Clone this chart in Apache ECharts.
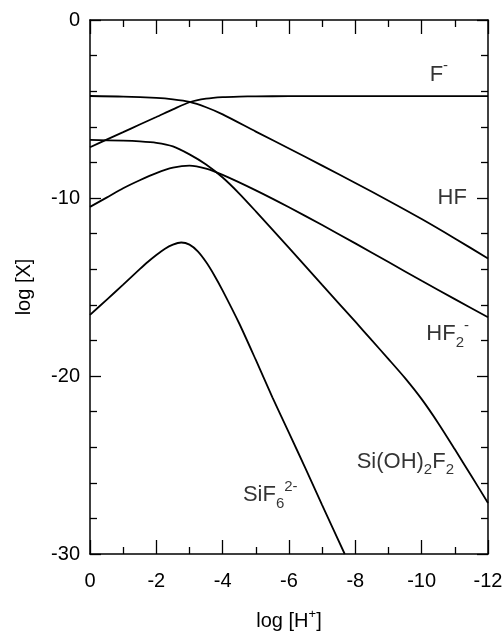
<!DOCTYPE html>
<html>
<head>
<meta charset="utf-8">
<script src="https://cdn.jsdelivr.net/npm/echarts@6/dist/echarts.min.js"></script>
<style>
  html, body { margin: 0; padding: 0; background: #fff; }
  #chart { width: 504px; height: 635px; }
</style>
</head>
<body>
<div id="chart"></div>
<script>
// log [H+] positions and log [X] values
var fX = [0, -0.5, -1, -1.5, -2, -2.5, -3, -3.5, -4, -4.5, -5, -6, -8, -10, -12];
var fY = [-7.15, -6.72, -6.3, -5.87, -5.45, -5.02, -4.62, -4.42, -4.33, -4.3, -4.29, -4.28, -4.28, -4.28, -4.28];

var hfX = [0, -1, -2, -2.5, -3, -3.5, -4, -5, -6, -7, -8, -9, -10, -11, -12];
var hfY = [-4.27, -4.3, -4.38, -4.46, -4.6, -4.9, -5.3, -6.27, -7.22, -8.18, -9.16, -10.15, -11.18, -12.27, -13.4];

var hf2X = [0, -0.5, -1, -1.5, -2, -2.5, -3, -3.5, -4, -5, -6, -7, -8, -9, -10, -11, -12];
var hf2Y = [-10.5, -9.98, -9.45, -9.0, -8.6, -8.3, -8.18, -8.35, -8.7, -9.57, -10.52, -11.52, -12.55, -13.6, -14.65, -15.68, -16.7];

var sioX = [0, -1, -1.5, -2, -2.5, -3, -3.5, -4, -4.5, -5, -6, -7, -8, -8.5, -9, -9.5, -10, -10.5, -11, -11.5, -12];
var sioY = [-6.74, -6.78, -6.82, -6.9, -7.1, -7.55, -8.12, -8.85, -9.75, -10.75, -12.8, -14.88, -16.95, -18.0, -19.05, -20.12, -21.3, -22.65, -24.12, -25.62, -27.13];

var sif6X = [0, -0.5, -1, -1.5, -1.75, -2, -2.25, -2.5, -2.75, -3, -3.25, -3.5, -3.75, -4, -4.5, -5, -5.5, -6, -6.5, -7, -7.68];
var sif6Y = [-16.57, -15.72, -14.87, -14.0, -13.58, -13.2, -12.86, -12.62, -12.5, -12.62, -13.0, -13.6, -14.35, -15.2, -17.05, -19.1, -21.2, -23.2, -25.2, -27.25, -30];

// species labels: text and where they sit (data units)
var labelText = ['F{sup|-}', 'HF', 'HF{sub|2}{sup|-}', 'Si(OH){sub|2}F{sub|2}', 'SiF{sub|6}{sup|2-}'];
var labelPos = [[-10.24, -3.06], [-10.48, -10.0], [-10.14, -17.64], [-8.04, -24.8], [-4.61, -26.7]];

function pairs(xs, ys) {
  return xs.map(function (x, i) { return [x, ys[i]]; });
}

var font = 'Liberation Sans, Arial, Helvetica, sans-serif';

function curve(name, xs, ys) {
  return {
    name: name,
    type: 'line',
    data: pairs(xs, ys),
    smooth: 0.25,
    showSymbol: false,
    clip: true,
    lineStyle: { color: '#000', width: 1.8 },
    z: 3
  };
}

var chart = echarts.init(document.getElementById('chart'));
var tickStyle = { color: '#000', width: 1.3 };
var lineStyle = { color: '#000', width: 1.5 };
var option = {
  animation: false,
  backgroundColor: '#fff',
  textStyle: { fontFamily: font },
  grid: { left: 90, right: 16, top: 20, bottom: 81, outerBoundsMode: 'none' },
  xAxis: [
    {
      type: 'value',
      position: 'bottom',
      min: -12,
      max: 0,
      interval: 2,
      inverse: true,
      name: '{b|log [H}{sup|+}{b|]}',
      nameLocation: 'middle',
      nameGap: 54,
      nameTextStyle: {
        fontFamily: font,
        fontSize: 20,
        color: '#000',
        rich: {
          b: { fontFamily: font, fontSize: 20, color: '#000', lineHeight: 26 },
          sup: { fontFamily: font, fontSize: 13, color: '#000', verticalAlign: 'top' }
        }
      },
      axisLine: { onZero: false, lineStyle: lineStyle },
      axisTick: { inside: true, length: 14, lineStyle: tickStyle },
      minorTick: { show: true, splitNumber: 2, length: 7, lineStyle: tickStyle },
      splitLine: { show: false },
      axisLabel: { color: '#000', fontSize: 20, fontFamily: font, margin: 17 }
    },
    {
      type: 'value',
      position: 'top',
      min: -12,
      max: 0,
      interval: 2,
      inverse: true,
      axisLine: { show: true, onZero: false, lineStyle: lineStyle },
      axisTick: { inside: true, length: 14, lineStyle: tickStyle },
      minorTick: { show: true, splitNumber: 2, length: 7, lineStyle: tickStyle },
      splitLine: { show: false },
      axisLabel: { show: false }
    }
  ],
  yAxis: [
    {
      type: 'value',
      position: 'left',
      min: -30,
      max: 0,
      interval: 10,
      name: 'log [X]',
      nameLocation: 'middle',
      nameGap: 56,
      nameTextStyle: { fontFamily: font, fontSize: 20, color: '#000' },
      axisLine: { show: true, onZero: false, lineStyle: lineStyle },
      axisTick: { inside: true, length: 11, lineStyle: tickStyle },
      minorTick: { show: true, splitNumber: 5, length: 7, lineStyle: tickStyle },
      splitLine: { show: false },
      axisLabel: { color: '#000', fontSize: 20, fontFamily: font, margin: 10 }
    },
    {
      type: 'value',
      position: 'right',
      min: -30,
      max: 0,
      interval: 10,
      axisLine: { show: true, onZero: false, lineStyle: lineStyle },
      axisTick: { inside: true, length: 11, lineStyle: tickStyle },
      minorTick: { show: true, splitNumber: 5, length: 7, lineStyle: tickStyle },
      splitLine: { show: false },
      axisLabel: { show: false }
    }
  ],
  series: [
    curve('F-', fX, fY),
    curve('HF', hfX, hfY),
    curve('HF2-', hf2X, hf2Y),
    curve('Si(OH)2F2', sioX, sioY),
    curve('SiF6 2-', sif6X, sif6Y),
    {
      name: 'labels',
      type: 'scatter',
      symbolSize: 0,
      silent: true,
      data: labelPos.map(function (p, i) {
        return { value: p, label: { formatter: labelText[i] } };
      }),
      label: {
        show: true,
        position: 'right',
        distance: 0,
        color: '#000',
        rich: {
          sub: { fontFamily: font, fontSize: 15, color: '#000', verticalAlign: 'bottom' },
          sup: { fontFamily: font, fontSize: 15, color: '#000', verticalAlign: 'top' }
        },
        fontFamily: font,
        fontSize: 22,
        lineHeight: 32
      }
    }
  ]
};
chart.setOption(option);
</script>
</body>
</html>
